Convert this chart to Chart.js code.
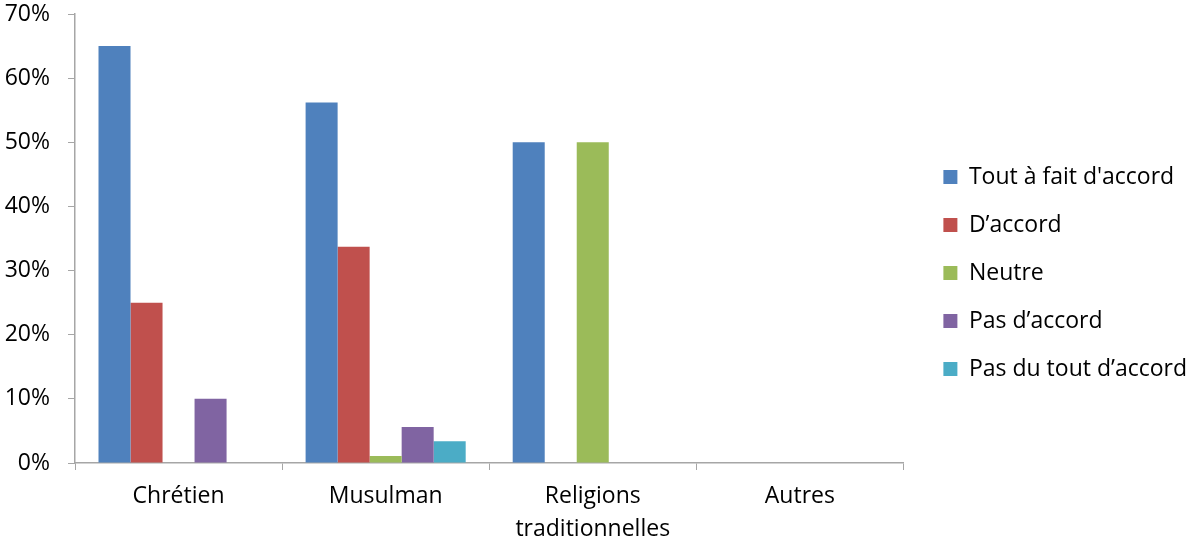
<!DOCTYPE html>
<html>
<head>
<meta charset="utf-8">
<script src="https://cdn.jsdelivr.net/npm/chart.js@4/dist/chart.umd.min.js"></script>
<style>
  html, body { margin: 0; padding: 0; background: #fff; }
  #wrap { width: 1188px; height: 544px; }
</style>
</head>
<body>
<div id="wrap"><canvas id="chart"></canvas></div>
<script>
const categories = ['Chrétien', 'Musulman', ['Religions', 'traditionnelles'], 'Autres'];
const seriesNames = ["Tout à fait d'accord", 'D’accord', 'Neutre', 'Pas d’accord', 'Pas du tout d’accord'];
const toutAFait = [65, 56.2, 50, 0];
const dAccord = [25, 33.7, 0, 0];
const neutre = [0, 1.1, 50, 0];
const pasDAccord = [10, 5.6, 0, 0];
const pasDuTout = [0, 3.4, 0, 0];
const yTicks = [0, 10, 20, 30, 40, 50, 60, 70];

const colors = ['#4F81BD', '#C0504D', '#9BBB59', '#8064A2', '#4BACC6'];
const values = [toutAFait, dAccord, neutre, pasDAccord, pasDuTout];
const axisColor = '#A6A6A6';
const font = { family: '"Open Sans", Lato, sans-serif', size: 23 };
const legendShift = 15;

// wider gap between plot and legend, and legend nudged up a little
const legendGap = {
  id: 'legendGap',
  beforeLayout(chart) {
    const lg = chart.legend;
    if (lg && !lg._gapPatched) {
      const fit = lg.fit.bind(lg);
      lg.fit = function () { fit(); this.width += legendShift; };
      lg._gapPatched = true;
    }
  },
  afterLayout(chart) {
    const lg = chart.legend;
    lg.left += legendShift;
    lg.top -= 6;
    lg.bottom -= 6;
  }
};

new Chart(document.getElementById('chart'), {
  type: 'bar',
  data: {
    labels: categories,
    datasets: values.map((data, i) => ({
      label: seriesNames[i],
      data: data,
      backgroundColor: colors[i],
      borderWidth: 0,
      categoryPercentage: 0.773,
      barPercentage: 1
    }))
  },
  options: {
    responsive: true,
    maintainAspectRatio: false,
    animation: false,
    layout: { padding: { top: 14, left: 5, right: -9, bottom: 0 } },
    scales: {
      y: {
        min: 0,
        max: 70,
        afterBuildTicks: axis => { axis.ticks = yTicks.map(v => ({ value: v })); },
        afterFit: axis => { axis.width = 70; axis.paddingTop = 0; axis.paddingBottom = 0; },
        ticks: { color: '#000', font: font, padding: 18, callback: v => v + '%' },
        grid: { drawOnChartArea: false, color: axisColor, tickLength: 7 },
        border: { color: axisColor, width: 1.5 }
      },
      x: {
        afterFit: axis => { axis.height = 81; },
        ticks: { color: '#000', font: { ...font, lineHeight: 1.42 }, padding: 10, maxRotation: 0 },
        grid: { drawOnChartArea: false, color: axisColor, tickLength: 7, offset: true },
        border: { color: axisColor, width: 1.5 }
      }
    },
    plugins: {
      legend: {
        position: 'right',
        labels: {
          color: '#000',
          font: font,
          boxWidth: 14,
          boxHeight: 14,
          padding: 25
        }
      },
      tooltip: { enabled: false }
    }
  },
  plugins: [legendGap]
});
</script>
</body>
</html>
